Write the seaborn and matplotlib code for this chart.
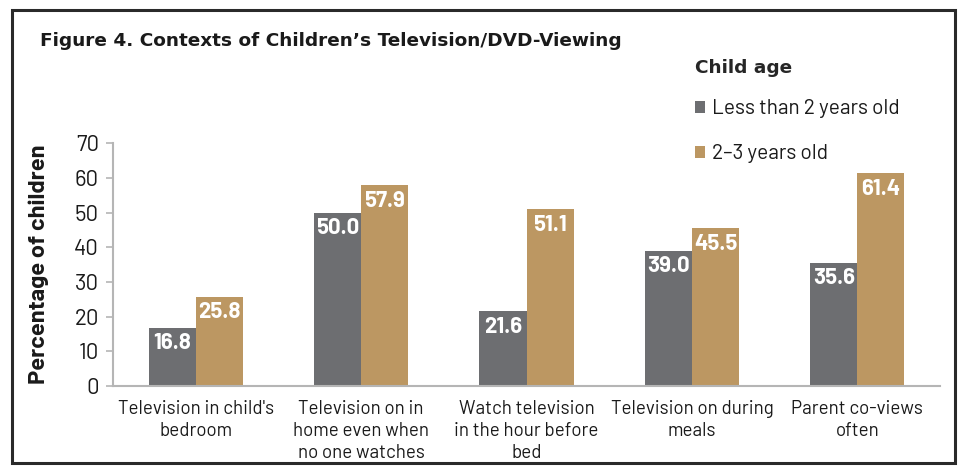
import matplotlib
matplotlib.use("Agg")
import matplotlib.pyplot as plt
from matplotlib.patches import Rectangle, Patch
import seaborn as sns
import pandas as pd

categories = [
    "Television in child's\nbedroom",
    "Television on in\nhome even when\nno one watches",
    "Watch television\nin the hour before\nbed",
    "Television on during\nmeals",
    "Parent co-views\noften",
]
under_two = [16.8, 50.0, 21.6, 39.0, 35.6]
two_to_three = [25.8, 57.9, 51.1, 45.5, 61.4]
series_names = ["Less than 2 years old", "2\u20133 years old"]
palette = ["#6d6e71", "#bc9762"]

df = pd.DataFrame({
    "context": categories * 2,
    "age": [series_names[0]] * len(categories) + [series_names[1]] * len(categories),
    "pct": under_two + two_to_three,
})

sns.set_theme(style="white")
heading = ["DejaVu Sans"]
plain = ["Barlow", "DejaVu Sans"]

fig = plt.figure(figsize=(9.59, 4.68), dpi=100)
ax = fig.add_axes([113 / 959, 1 - 386 / 468, (940 - 113) / 959, (386 - 143.5) / 468])

sns.barplot(data=df, x="context", y="pct", hue="age", order=categories,
            hue_order=series_names, palette=palette, width=0.57, gap=0,
            saturation=1, linewidth=0, ax=ax, legend=False)

for container in ax.containers:
    texts = ax.bar_label(container, fmt="%.1f", padding=-4, color="white",
                         fontsize=16, fontweight="bold", family=plain)
    for t in texts:
        t.set_va("top")

ax.set_xlim(-0.5, 4.5)
ax.set_ylim(0, 70)
ax.set_yticks(range(0, 71, 10))
ax.set_xlabel("")
ax.set_ylabel("Percentage of children", fontsize=17, fontweight="bold",
              family=plain, color="#1a1a1a", labelpad=18)

for side in ("top", "right"):
    ax.spines[side].set_visible(False)
for side in ("left", "bottom"):
    ax.spines[side].set_color("#b5b5b5")
    ax.spines[side].set_linewidth(1.5)

ax.tick_params(axis="y", length=5, width=1.2, color="#b5b5b5", left=True,
               labelsize=16, labelcolor="#1a1a1a", pad=5)
ax.tick_params(axis="x", length=0, labelsize=13.5, labelcolor="#1a1a1a", pad=10)
for lbl in ax.get_yticklabels():
    lbl.set_family(plain)
for lbl in ax.get_xticklabels():
    lbl.set_family(plain)
    lbl.set_linespacing(1.3)

fig.text(40 / 959, 1 - 41 / 468, "Figure 4. Contexts of Children\u2019s Television/DVD-Viewing",
         fontsize=13.3, fontweight="bold", family=heading, color="#1a1a1a",
         ha="left", va="center")

handles = [Patch(facecolor=c, edgecolor="none") for c in palette]
leg = fig.legend(handles, series_names, title="Child age", loc="upper left",
                 bbox_to_anchor=(695 / 959, 1 - 59 / 468), frameon=False,
                 prop={"family": plain, "size": 15}, handlelength=0.5,
                 handleheight=0.5, handletextpad=0.3, labelspacing=1.25,
                 borderaxespad=0, borderpad=0)
leg.get_title().set_fontweight("bold")
leg.get_title().set_family(heading)
leg.get_title().set_fontsize(13.3)
leg._legend_box.align = "left"
leg._legend_box.sep = 16
for t in leg.get_texts():
    t.set_color("#1a1a1a")

fig.patches.append(Rectangle((12 / 959, 1 - 463 / 468), (955 - 12) / 959, (463 - 10) / 468,
                             transform=fig.transFigure, fill=False,
                             edgecolor="#2a2a2a", linewidth=2.2))

fig.savefig("out.png", dpi=100)
